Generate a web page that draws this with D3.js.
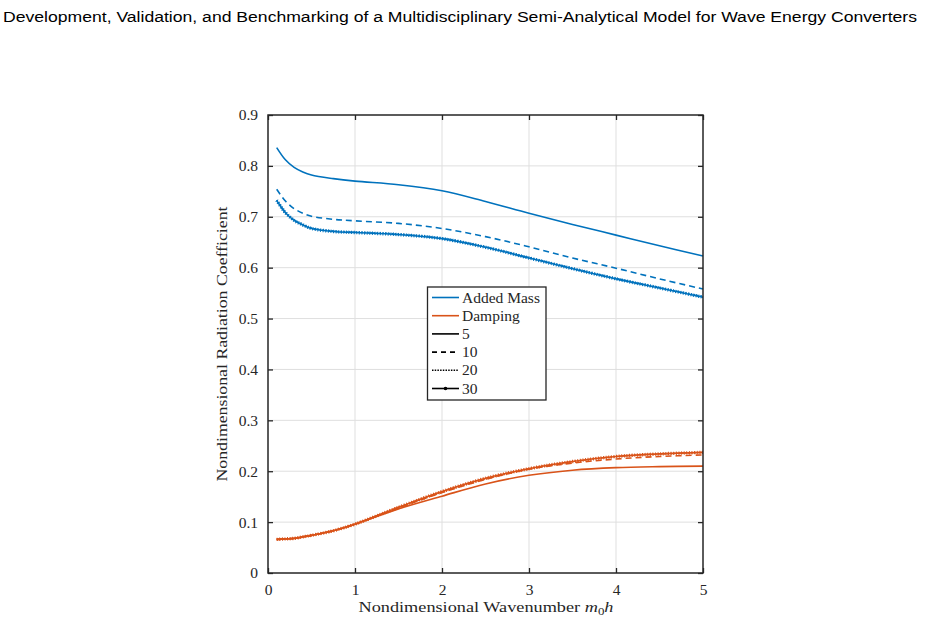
<!DOCTYPE html>
<html>
<head>
<meta charset="utf-8">
<script src="https://cdn.jsdelivr.net/npm/d3@7"></script>
<style>
  body { margin: 0; background: #fff; }
  text { font-family: "Liberation Serif", serif; fill: #262626; }
</style>
</head>
<body>
<svg id="chart" width="925" height="623"></svg>
<script>
// data
const xs = [0.1, 0.2, 0.3, 0.4, 0.5, 0.75, 1, 1.5, 2, 2.5, 3, 3.5, 4, 4.5, 5];

const addedMass5  = [0.836, 0.812, 0.797, 0.788, 0.782, 0.775, 0.770, 0.763, 0.751, 0.730, 0.707, 0.685, 0.664, 0.643, 0.623];
const addedMass10 = [0.754, 0.731, 0.716, 0.707, 0.701, 0.695, 0.692, 0.687, 0.677, 0.661, 0.641, 0.619, 0.599, 0.578, 0.558];
const addedMass20 = [0.733, 0.709, 0.694, 0.685, 0.678, 0.672, 0.670, 0.666, 0.658, 0.641, 0.620, 0.599, 0.579, 0.561, 0.543];
const addedMass30 = [0.732, 0.708, 0.693, 0.684, 0.677, 0.671, 0.669, 0.665, 0.657, 0.640, 0.619, 0.598, 0.578, 0.560, 0.542];

const damping5  = [0.066, 0.067, 0.068, 0.071, 0.074, 0.083, 0.096, 0.126, 0.151, 0.175, 0.192, 0.202, 0.207, 0.209, 0.210];
const damping10 = [0.066, 0.067, 0.068, 0.071, 0.074, 0.083, 0.096, 0.128, 0.158, 0.184, 0.204, 0.216, 0.224, 0.229, 0.232];
const damping20 = [0.066, 0.067, 0.068, 0.071, 0.074, 0.083, 0.096, 0.129, 0.159, 0.185, 0.205, 0.219, 0.229, 0.234, 0.237];
const damping30 = [0.066, 0.067, 0.068, 0.071, 0.074, 0.083, 0.096, 0.129, 0.160, 0.186, 0.205, 0.219, 0.229, 0.234, 0.237];

const xTicks = [0, 1, 2, 3, 4, 5];
const yTicks = [0, 0.1, 0.2, 0.3, 0.4, 0.5, 0.6, 0.7, 0.8, 0.9];

const legendLabels = ["Added Mass", "Damping", "5", "10", "20", "30"];

const blue = "#0072bd", orange = "#d95319", axisColor = "#262626";

const svg = d3.select("#chart");

const x = d3.scaleLinear().domain([0, 5]).range([268, 703]);
const y = d3.scaleLinear().domain([0, 0.9]).range([573, 115]);

// title
svg.append("text")
  .attr("x", 3)
  .attr("y", 22)
  .attr("textLength", 914)
  .attr("lengthAdjust", "spacingAndGlyphs")
  .style("font-family", "'Liberation Sans', sans-serif")
  .style("font-size", "15.5px")
  .style("fill", "#000")
  .text("Development, Validation, and Benchmarking of a Multidisciplinary Semi-Analytical Model for Wave Energy Converters");

// grid
svg.append("g")
  .selectAll("line.gx")
  .data(xTicks.slice(1, -1))
  .join("line")
  .attr("x1", d => x(d)).attr("x2", d => x(d))
  .attr("y1", y(0)).attr("y2", y(0.9))
  .attr("stroke", "#dfdfdf").attr("stroke-width", 1);

svg.append("g")
  .selectAll("line.gy")
  .data(yTicks.slice(1, -1))
  .join("line")
  .attr("x1", x(0)).attr("x2", x(5))
  .attr("y1", d => y(d)).attr("y2", d => y(d))
  .attr("stroke", "#dfdfdf").attr("stroke-width", 1);

// lines
const line = d3.line().x(d => x(d[0])).y(d => y(d[1])).curve(d3.curveCatmullRom.alpha(0.5));
const pts = vals => xs.map((v, i) => [v, vals[i]]);

function drawSeries(vals, color, kind) {
  const p = pts(vals);
  if (kind === "solid" || kind === "marker") {
    svg.append("path").datum(p).attr("d", line)
      .attr("fill", "none").attr("stroke", color).attr("stroke-width", 1.6);
  }
  if (kind === "dash") {
    svg.append("path").datum(p).attr("d", line)
      .attr("fill", "none").attr("stroke", color).attr("stroke-width", 1.6)
      .attr("stroke-dasharray", "6,4");
  }
  if (kind === "dot") {
    svg.append("path").datum(p).attr("d", line)
      .attr("fill", "none").attr("stroke", color).attr("stroke-width", 1.6)
      .attr("stroke-dasharray", "1.5,1.5");
  }
  if (kind === "marker") {
    // dense point markers give a hatched look
    svg.append("path").datum(p).attr("d", line)
      .attr("fill", "none").attr("stroke", color).attr("stroke-width", 3.4)
      .attr("stroke-dasharray", "1,1.6");
  }
}

drawSeries(addedMass5, blue, "solid");
drawSeries(addedMass10, blue, "dash");
drawSeries(addedMass20, blue, "dot");
drawSeries(addedMass30, blue, "marker");
drawSeries(damping5, orange, "solid");
drawSeries(damping10, orange, "dash");
drawSeries(damping20, orange, "dot");
drawSeries(damping30, orange, "marker");

// axes
const yFmt = d => d === 0 ? "0" : d3.format(".1f")(d);

const gLeft = svg.append("g").attr("transform", `translate(${x(0)},0)`)
  .call(d3.axisLeft(y).tickValues(yTicks).tickFormat(yFmt).tickSize(-5).tickPadding(10));
const gRight = svg.append("g").attr("transform", `translate(${x(5)},0)`)
  .call(d3.axisRight(y).tickValues(yTicks).tickFormat("").tickSize(-5));
const gBottom = svg.append("g").attr("transform", `translate(0,${y(0)})`)
  .call(d3.axisBottom(x).tickValues(xTicks).tickFormat(d3.format("d")).tickSize(-5).tickPadding(11));
const gTop = svg.append("g").attr("transform", `translate(0,${y(0.9)})`)
  .call(d3.axisTop(x).tickValues(xTicks).tickFormat("").tickSize(-5));

[gLeft, gRight, gBottom, gTop].forEach(g => {
  g.select(".domain").remove();
  g.selectAll(".tick line").attr("stroke", axisColor).attr("stroke-width", 1.3);
  g.selectAll("text").style("font-family", "'Liberation Serif', serif")
    .style("font-size", "15.5px").attr("fill", axisColor);
});

// box
svg.append("rect")
  .attr("x", x(0)).attr("y", y(0.9))
  .attr("width", x(5) - x(0)).attr("height", y(0) - y(0.9))
  .attr("fill", "none").attr("stroke", axisColor).attr("stroke-width", 1.5);

// axis labels
svg.append("text")
  .attr("transform", `translate(227,${(y(0) + y(0.9)) / 2}) rotate(-90)`)
  .attr("text-anchor", "middle")
  .attr("textLength", 275)
  .attr("lengthAdjust", "spacingAndGlyphs")
  .style("font-size", "15.5px")
  .text("Nondimensional Radiation Coefficient");

const xl = svg.append("text")
  .attr("x", 486).attr("y", 612)
  .attr("text-anchor", "middle")
  .attr("textLength", 255)
  .attr("lengthAdjust", "spacingAndGlyphs")
  .style("font-size", "15.5px");
xl.append("tspan").text("Nondimensional Wavenumber ");
xl.append("tspan").style("font-style", "italic").text("m");
xl.append("tspan").attr("dy", 3).style("font-size", "11px").text("0");
xl.append("tspan").attr("dy", -3).style("font-style", "italic").text("h");

// legend
const lg = svg.append("g");
lg.append("rect")
  .attr("x", 427.5).attr("y", 287)
  .attr("width", 118.5).attr("height", 113)
  .attr("fill", "#fff").attr("stroke", axisColor).attr("stroke-width", 1.3);

const legendStyles = [
  { color: blue, dash: null },
  { color: orange, dash: null },
  { color: "#000", dash: null },
  { color: "#000", dash: "5,4" },
  { color: "#000", dash: "1.5,1.2" },
  { color: "#000", dash: null, marker: true }
];

legendLabels.forEach((lab, i) => {
  const cy = 297.5 + i * 18.2;
  const st = legendStyles[i];
  const l = lg.append("line")
    .attr("x1", 432).attr("x2", 459)
    .attr("y1", cy).attr("y2", cy)
    .attr("stroke", st.color).attr("stroke-width", 1.6);
  if (st.dash) l.attr("stroke-dasharray", st.dash);
  if (st.marker) {
    lg.append("circle").attr("cx", 445.5).attr("cy", cy).attr("r", 1.8).attr("fill", st.color);
  }
  lg.append("text")
    .attr("x", 462).attr("y", cy + 5)
    .style("font-size", "15.5px")
    .text(lab);
});
</script>
</body>
</html>
